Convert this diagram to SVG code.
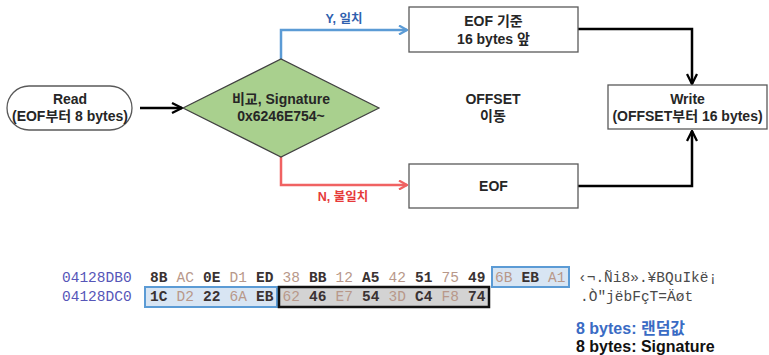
<svg xmlns="http://www.w3.org/2000/svg" width="769" height="355" viewBox="0 0 769 355">
  <style>
    .lbl { font-family: "Liberation Sans", "Noto Sans CJK KR", sans-serif; font-weight: bold; font-size: 14px; fill: #262626; text-anchor: middle; }
    .box { fill: #ffffff; stroke: #595959; stroke-width: 1.3; }
    .conn { fill: none; stroke-width: 2.5; }
    .hex { font-family: "Liberation Mono", "Courier New", monospace; font-size: 14.5px; }
    .addr { fill: #5656b8; }
    .dk { fill: #3a3232; font-weight: bold; }
    .lt { fill: #b8988a; }
    .asc { fill: #4a4a4a; }
    .legend { font-family: "Liberation Sans", "Noto Sans CJK KR", sans-serif; font-weight: bold; font-size: 16px; }
  </style>
  <defs>
    <marker id="headBlack" viewBox="0 0 12 12" refX="11" refY="6" markerWidth="12" markerHeight="12" markerUnits="userSpaceOnUse" orient="auto">
      <path d="M1,1 L11,6 L1,11" fill="none" stroke="#000000" stroke-width="2.3"/>
    </marker>
    <marker id="headBlue" viewBox="0 0 10 10" refX="9" refY="5" markerWidth="10" markerHeight="10" markerUnits="userSpaceOnUse" orient="auto">
      <path d="M1,0.5 L9,5 L1,9.5" fill="none" stroke="#5b9bd5" stroke-width="2.2"/>
    </marker>
    <marker id="headRed" viewBox="0 0 10 10" refX="9" refY="5" markerWidth="10" markerHeight="10" markerUnits="userSpaceOnUse" orient="auto">
      <path d="M1,0.5 L9,5 L1,9.5" fill="none" stroke="#f06262" stroke-width="2.2"/>
    </marker>
  </defs>

  <rect width="769" height="355" fill="#ffffff"/>

  <!-- connectors -->
  <g id="connectors">
    <path class="conn" d="M140,108 H182" stroke="#000000" marker-end="url(#headBlack)"/>
    <path class="conn" d="M281,59 V30 H407" stroke="#5b9bd5" marker-end="url(#headBlue)"/>
    <path class="conn" d="M281,157 V185 H407" stroke="#f06262" marker-end="url(#headRed)"/>
    <path class="conn" d="M578,29 H692 V84" stroke="#000000" marker-end="url(#headBlack)"/>
    <path class="conn" d="M578,186 H692 V131" stroke="#000000" marker-end="url(#headBlack)"/>
    <text x="344" y="23" text-anchor="middle" font-family="'Liberation Sans', 'Noto Sans CJK KR', sans-serif" font-weight="bold" font-size="12.5" fill="#2f5fae">Y, 일치</text>
    <text x="343" y="201" text-anchor="middle" font-family="'Liberation Sans', 'Noto Sans CJK KR', sans-serif" font-weight="bold" font-size="12.5" fill="#e63a3a">N, 불일치</text>
  </g>

  <!-- nodes -->
  <g id="read">
    <rect x="7" y="86" width="125" height="44" rx="22" ry="22" class="box" stroke="#404040"/>
    <text class="lbl" x="70" y="104">Read</text>
    <text class="lbl" x="70" y="121">(EOF부터 8 bytes)</text>
  </g>

  <g id="compare">
    <polygon points="183,108 281,59 379,108 281,157" fill="#a9d08e" stroke="#404040" stroke-width="1.2"/>
    <text class="lbl" x="281" y="104">비교, Signature</text>
    <text class="lbl" x="281" y="121">0x6246E754~</text>
  </g>

  <g id="eof-16">
    <rect x="409" y="7" width="169" height="45" class="box"/>
    <text class="lbl" x="493.5" y="25.5">EOF 기준</text>
    <text class="lbl" x="493.5" y="44">16 bytes 앞</text>
  </g>

  <g id="offset-move">
    <text class="lbl" x="493" y="104">OFFSET</text>
    <text class="lbl" x="493" y="121">이동</text>
  </g>

  <g id="eof">
    <rect x="409" y="164" width="169" height="44" class="box"/>
    <text class="lbl" x="493.5" y="191">EOF</text>
  </g>

  <g id="write">
    <rect x="608" y="85" width="159" height="44" class="box"/>
    <text class="lbl" x="687.5" y="104">Write</text>
    <text class="lbl" x="687.5" y="121">(OFFSET부터 16 bytes)</text>
  </g>

  <!-- hex dump -->
  <g id="hexdump" class="hex">
    <rect x="492" y="267" width="77" height="20" fill="#d8e5f3" stroke="#5b9bd5" stroke-width="2"/>
    <rect x="145" y="287" width="132" height="20" fill="#d8e5f3" stroke="#5b9bd5" stroke-width="2"/>
    <rect x="279" y="287" width="210" height="20" fill="#d3d3d3" stroke="#111111" stroke-width="2.5"/>

    <text class="addr" x="62" y="282">04128DB0</text>
    <text class="dk" x="150" y="282">8B</text>
    <text class="lt" x="176.5" y="282">AC</text>
    <text class="dk" x="203" y="282">0E</text>
    <text class="lt" x="229.5" y="282">D1</text>
    <text class="dk" x="256" y="282">ED</text>
    <text class="lt" x="282.5" y="282">38</text>
    <text class="dk" x="309" y="282">BB</text>
    <text class="lt" x="335.5" y="282">12</text>
    <text class="dk" x="362" y="282">A5</text>
    <text class="lt" x="388.5" y="282">42</text>
    <text class="dk" x="415" y="282">51</text>
    <text class="lt" x="441.5" y="282">75</text>
    <text class="dk" x="468" y="282">49</text>
    <text class="lt" x="495" y="282">6B</text>
    <text class="dk" x="521.5" y="282">EB</text>
    <text class="lt" x="548" y="282">A1</text>
    <text class="asc" x="578" y="282">‹¬.Ñi8».¥BQuIkë¡</text>

    <text class="addr" x="62" y="301">04128DC0</text>
    <text class="dk" x="150" y="301">1C</text>
    <text class="lt" x="176.5" y="301">D2</text>
    <text class="dk" x="203" y="301">22</text>
    <text class="lt" x="229.5" y="301">6A</text>
    <text class="dk" x="256" y="301">EB</text>
    <text class="lt" x="282.5" y="301">62</text>
    <text class="dk" x="309" y="301">46</text>
    <text class="lt" x="335.5" y="301">E7</text>
    <text class="dk" x="362" y="301">54</text>
    <text class="lt" x="388.5" y="301">3D</text>
    <text class="dk" x="415" y="301">C4</text>
    <text class="lt" x="441.5" y="301">F8</text>
    <text class="dk" x="468" y="301">74</text>
    <text class="asc" x="580" y="301">.Ò"jëbFçT=Äøt</text>
  </g>

  <g id="legend" class="legend">
    <text x="576" y="334" fill="#3a6bc4">8 bytes: 랜덤값</text>
    <text x="576" y="352" fill="#111111">8 bytes: Signature</text>
  </g>
</svg>
